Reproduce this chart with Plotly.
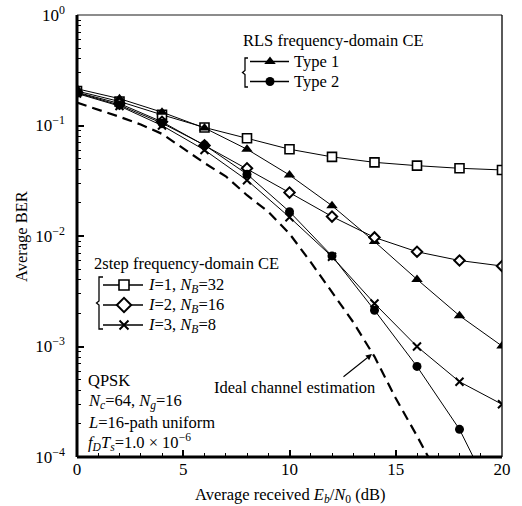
import plotly.graph_objects as go

# ---------------- data ----------------
snr = [0, 2, 4, 6, 8, 10, 12, 14, 16, 18, 20]
ber_2step_I1_NB32 = [0.205, 0.165, 0.125, 0.096, 0.0766, 0.061, 0.052, 0.0464, 0.0433, 0.041, 0.0396]
ber_rls_type1 = [0.215, 0.175, 0.132, 0.095, 0.061, 0.0356, 0.0188, 0.0089, 0.00405, 0.0019, 0.00101]
ber_2step_I2_NB16 = [0.200, 0.158, 0.108, 0.066, 0.041, 0.0247, 0.015, 0.0097, 0.0072, 0.006, 0.00535]
ber_rls_type2 = [0.198, 0.153, 0.105, 0.0666, 0.0363, 0.0166, 0.0066, 0.00213, 0.00066, 0.000178, 0.00003]
ber_2step_I3_NB8 = [0.195, 0.150, 0.100, 0.060, 0.032, 0.0148, 0.0065, 0.00245, 0.001, 0.00048, 0.0003]

snr_ideal = [0, 1, 2, 3, 4, 5, 6, 7, 8, 9, 10, 11, 12, 13, 14, 15, 16, 17]
ber_ideal = [0.161, 0.14, 0.12, 0.102, 0.084, 0.062, 0.0457, 0.0347, 0.0234, 0.0166,
             0.0105, 0.0058, 0.0031, 0.00166, 0.00081, 0.00034, 0.000155, 0.000068]

x_ticks = [0, 5, 10, 15, 20]
y_ticks = [1e-4, 1e-3, 1e-2, 1e-1, 1]
y_ticktext = ["10<sup>−4</sup>", "10<sup>−3</sup>", "10<sup>−2</sup>", "10<sup>−1</sup>", "10<sup>0</sup>"]

# ---------------- layout helpers ----------------
W, H = 522, 506
L, R, T, B = 77, 502, 15, 457
FONT = "Liberation Serif, Times New Roman, serif"


def px(x):
    return (x - L) / (R - L)


def py(y):
    return (B - y) / (B - T)


line_style = dict(color="black", width=1)
m_square = dict(symbol="square", size=9, color="white", line=dict(color="black", width=1.6))
m_tri = dict(symbol="triangle-up", size=10, color="black", line=dict(color="black", width=0))
m_diam = dict(symbol="diamond", size=8, color="white", line=dict(color="black", width=2))
m_circ = dict(symbol="circle", size=9, color="black", line=dict(color="black", width=0))
m_x = dict(symbol="x-thin", size=8, color="black", line=dict(color="black", width=2))

fig = go.Figure()

fig.add_trace(go.Scatter(x=snr_ideal, y=ber_ideal, mode="lines",
                         line=dict(color="black", width=2.2, dash="10px,6px"),
                         showlegend=False))
for ys, mk in [(ber_2step_I1_NB32, m_square), (ber_rls_type1, m_tri),
               (ber_2step_I2_NB16, m_diam), (ber_rls_type2, m_circ),
               (ber_2step_I3_NB8, m_x)]:
    fig.add_trace(go.Scatter(x=snr, y=ys, mode="lines+markers", line=line_style,
                             marker=mk, showlegend=False))

# ---------------- hand-drawn legend samples (overlay axes in plot-area units) ----------------
def legend_sample(x0, x1, xm, y, mk):
    fig.add_trace(go.Scatter(x=[px(x0), px(x1)], y=[py(y), py(y)], xaxis="x2", yaxis="y2",
                             mode="lines", line=dict(color="black", width=1.3),
                             showlegend=False, hoverinfo="skip"))
    fig.add_trace(go.Scatter(x=[px(xm)], y=[py(y)], xaxis="x2", yaxis="y2",
                             mode="markers", marker=dict(mk), showlegend=False, hoverinfo="skip"))


legend_sample(250, 289, 270, 61.5, m_tri)
legend_sample(250, 289, 270, 81.5, m_circ)
legend_sample(103, 143, 124, 285, dict(m_square, size=10))
legend_sample(103, 143, 124, 305, dict(m_diam, size=11))
legend_sample(103, 143, 124, 325, dict(m_x, size=9))

# ---------------- annotations ----------------
annots = []


def text(x, y, s, size=16.5, xanchor="left"):
    annots.append(dict(x=px(x), y=py(y), xref="paper", yref="paper", text=s, showarrow=False,
                       xanchor=xanchor, yanchor="middle",
                       font=dict(family=FONT, size=size, color="black")))


text(241, 40, "RLS frequency-domain CE")
text(292, 61.5, "Type 1")
text(292, 81.5, "Type 2")
text(92, 263, "2step frequency-domain CE")
text(146, 285, "<i>I</i>=1, <i>N</i><sub><i>B</i></sub>=32")
text(146, 305, "<i>I</i>=2, <i>N</i><sub><i>B</i></sub>=16")
text(146, 325, "<i>I</i>=3, <i>N</i><sub><i>B</i></sub>=8")
text(86, 380, "QPSK")
text(86, 401.5, "<i>N</i><sub><i>c</i></sub>=64, <i>N</i><sub><i>g</i></sub>=16")
text(86, 422.5, "<i>L</i>=16-path uniform")
text(86, 442, "<i>f</i><sub><i>D</i></sub><i>T</i><sub><i>s</i></sub>=1.0 × 10<sup>−6</sup>")
text(212, 387, "Ideal channel estimation")

# arrow to the ideal curve
annots.append(dict(x=px(372), y=py(354), xref="paper", yref="paper", ax=-30, ay=24,
                   axref="pixel", ayref="pixel", showarrow=True, arrowhead=2, arrowsize=1.1,
                   arrowwidth=1.1, arrowcolor="black", text=""))

# axis titles
annots.append(dict(x=px(290), y=py(495), xref="paper", yref="paper", showarrow=False,
                   text="Average received <i>E</i><sub><i>b</i></sub>/<i>N</i><sub>0</sub> (dB)",
                   xanchor="center", yanchor="middle",
                   font=dict(family=FONT, size=16.5, color="black")))
annots.append(dict(x=px(21), y=0.5, xref="paper", yref="paper", showarrow=False,
                   text="Average BER", textangle=-90, xanchor="center", yanchor="middle",
                   font=dict(family=FONT, size=16.5, color="black")))

# ---------------- shapes: frame and brackets ----------------
shapes = [
    dict(type="line", xref="paper", yref="paper", x0=0, x1=1, y0=1, y1=1,
         line=dict(color="#666666", width=1.3)),
    dict(type="line", xref="paper", yref="paper", x0=1, x1=1, y0=0, y1=1,
         line=dict(color="black", width=1.3)),
    dict(type="line", xref="paper", yref="paper", x0=0, x1=1, y0=0, y1=0,
         line=dict(color="black", width=3)),
    dict(type="line", xref="paper", yref="paper", x0=0, x1=0, y0=0, y1=1,
         line=dict(color="black", width=3)),
]


def bracket(xv, y0, y1, xhook, xdot):
    ym = (y0 + y1) / 2
    pts = [(xhook, y0), (xv, y0), (xv, ym - 2), (xdot, ym), (xv, ym + 2), (xv, y1), (xhook, y1)]
    path = "M " + " L ".join(f"{px(a):.5f},{py(b):.5f}" for a, b in pts)
    shapes.append(dict(type="path", xref="paper", yref="paper", path=path,
                       line=dict(color="black", width=1.3)))


bracket(245, 58, 87, 248, 242.5)
bracket(99, 277, 329, 103, 96.5)

minor_y = [k * 10 ** e for e in range(-4, 0) for k in range(2, 10)]

fig.update_layout(
    width=W, height=H,
    margin=dict(l=L, r=W - R, t=T, b=H - B, pad=0, autoexpand=False),
    paper_bgcolor="white", plot_bgcolor="white",
    font=dict(family=FONT, color="black"),
    showlegend=False,
    xaxis=dict(range=[0, 20], tickvals=x_ticks, ticks="inside", ticklen=7, tickwidth=1.5,
               tickcolor="black", showgrid=False, zeroline=False, showline=False,
               automargin=False,
               tickfont=dict(family=FONT, size=17, color="black"),
               minor=dict(dtick=1, ticks="inside", ticklen=4, tickwidth=1, tickcolor="black")),
    yaxis=dict(type="log", range=[-4, 0], tickvals=y_ticks, ticktext=y_ticktext,
               ticks="inside", ticklen=7, tickwidth=1.5, tickcolor="black",
               showgrid=False, zeroline=False, showline=False, ticklabelstandoff=11,
               automargin=False,
               tickfont=dict(family=FONT, size=17, color="black"),
               minor=dict(tickmode="array", tickvals=minor_y, ticks="inside", ticklen=4,
                          tickwidth=1, tickcolor="black")),
    xaxis2=dict(domain=[0, 1], range=[0, 1], overlaying="x", anchor="y2", visible=False),
    yaxis2=dict(domain=[0, 1], range=[0, 1], overlaying="y", anchor="x2", visible=False),
    annotations=annots,
    shapes=shapes,
)

fig.write_html("out.html", config={"displayModeBar": False},
               post_script="document.body.style.margin='0';")
